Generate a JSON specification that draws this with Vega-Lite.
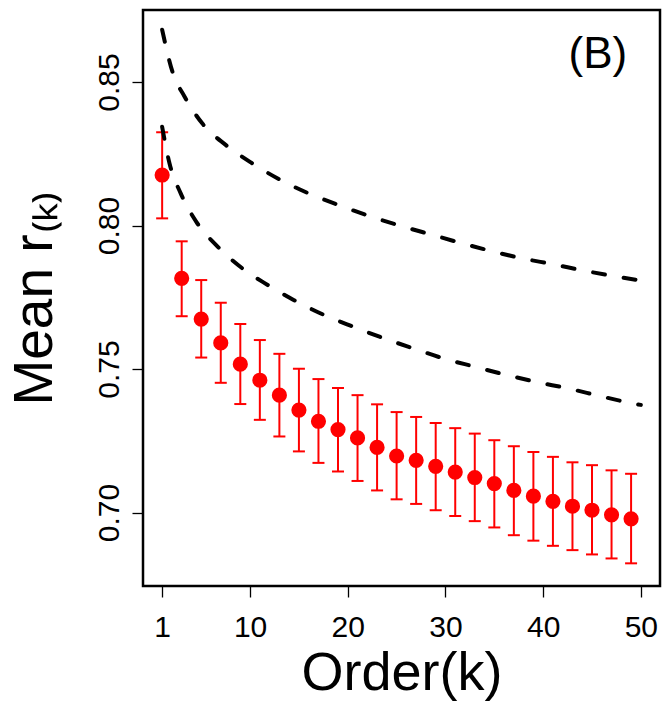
{
  "$schema": "https://vega.github.io/schema/vega-lite/v6.json",
  "width": 517,
  "height": 576,
  "autosize": {"type": "none"},
  "padding": {"left": 143, "top": 10, "right": 3, "bottom": 117},
  "background": "white",
  "config": {
    "font": "Liberation Sans",
    "view": {"stroke": "black", "strokeWidth": 2.5},
    "axis": {"grid": false, "domain": false, "tickColor": "black", "tickWidth": 1.3, "tickSize": 11, "labelColor": "black", "titleColor": "black", "labelFont": "Liberation Sans", "titleFont": "Liberation Sans", "titleFontWeight": "normal"}
  },
  "datasets": {
    "pts": [
      {"k": 1, "m": 0.8176, "lo": 0.8025, "hi": 0.8325},
      {"k": 3, "m": 0.7816, "lo": 0.7684, "hi": 0.7945},
      {"k": 5, "m": 0.7674, "lo": 0.7540, "hi": 0.7810},
      {"k": 7, "m": 0.7591, "lo": 0.7452, "hi": 0.7731},
      {"k": 9, "m": 0.7517, "lo": 0.7378, "hi": 0.7657},
      {"k": 11, "m": 0.7461, "lo": 0.7323, "hi": 0.7601},
      {"k": 13, "m": 0.7409, "lo": 0.7265, "hi": 0.7553},
      {"k": 15, "m": 0.7357, "lo": 0.7213, "hi": 0.7501},
      {"k": 17, "m": 0.7318, "lo": 0.7173, "hi": 0.7465},
      {"k": 19, "m": 0.7289, "lo": 0.7143, "hi": 0.7434},
      {"k": 21, "m": 0.7260, "lo": 0.7110, "hi": 0.7409},
      {"k": 23, "m": 0.7227, "lo": 0.7077, "hi": 0.7377},
      {"k": 25, "m": 0.7197, "lo": 0.7046, "hi": 0.7350},
      {"k": 27, "m": 0.7182, "lo": 0.7030, "hi": 0.7333},
      {"k": 29, "m": 0.7161, "lo": 0.7008, "hi": 0.7312},
      {"k": 31, "m": 0.7141, "lo": 0.6988, "hi": 0.7294},
      {"k": 33, "m": 0.7122, "lo": 0.6970, "hi": 0.7275},
      {"k": 35, "m": 0.7101, "lo": 0.6948, "hi": 0.7252},
      {"k": 37, "m": 0.7077, "lo": 0.6921, "hi": 0.7231},
      {"k": 39, "m": 0.7057, "lo": 0.6902, "hi": 0.7211},
      {"k": 41, "m": 0.7039, "lo": 0.6884, "hi": 0.7194},
      {"k": 43, "m": 0.7022, "lo": 0.6869, "hi": 0.7175},
      {"k": 45, "m": 0.7008, "lo": 0.6854, "hi": 0.7165},
      {"k": 47, "m": 0.6992, "lo": 0.6840, "hi": 0.7147},
      {"k": 49, "m": 0.6978, "lo": 0.6823, "hi": 0.7135}
    ],
    "bounds": [
      {"s": "upper", "k": 1, "v": 0.8682},
      {"s": "upper", "k": 2.1, "v": 0.8531},
      {"s": "upper", "k": 3.3, "v": 0.8449},
      {"s": "upper", "k": 5.1, "v": 0.8356},
      {"s": "upper", "k": 7.5, "v": 0.8281},
      {"s": "upper", "k": 10.2, "v": 0.8217},
      {"s": "upper", "k": 13.1, "v": 0.8159},
      {"s": "upper", "k": 16, "v": 0.8112},
      {"s": "upper", "k": 19.1, "v": 0.8071},
      {"s": "upper", "k": 22.2, "v": 0.8033},
      {"s": "upper", "k": 25.6, "v": 0.7997},
      {"s": "upper", "k": 28.4, "v": 0.7970},
      {"s": "upper", "k": 31.5, "v": 0.7940},
      {"s": "upper", "k": 34.7, "v": 0.7911},
      {"s": "upper", "k": 37.8, "v": 0.7886},
      {"s": "upper", "k": 41, "v": 0.7865},
      {"s": "upper", "k": 44.3, "v": 0.7842},
      {"s": "upper", "k": 47.5, "v": 0.7822},
      {"s": "upper", "k": 50, "v": 0.7808},
      {"s": "lower", "k": 1, "v": 0.8344},
      {"s": "lower", "k": 1.75, "v": 0.8217},
      {"s": "lower", "k": 2.9, "v": 0.8112},
      {"s": "lower", "k": 4.5, "v": 0.8013},
      {"s": "lower", "k": 6.7, "v": 0.7926},
      {"s": "lower", "k": 9.2, "v": 0.7851},
      {"s": "lower", "k": 11.8, "v": 0.7793},
      {"s": "lower", "k": 14.5, "v": 0.7740},
      {"s": "lower", "k": 17.6, "v": 0.7688},
      {"s": "lower", "k": 20.6, "v": 0.7647},
      {"s": "lower", "k": 23.7, "v": 0.7607},
      {"s": "lower", "k": 26.7, "v": 0.7572},
      {"s": "lower", "k": 29.8, "v": 0.7537},
      {"s": "lower", "k": 33, "v": 0.7508},
      {"s": "lower", "k": 36.3, "v": 0.7479},
      {"s": "lower", "k": 39.3, "v": 0.7455},
      {"s": "lower", "k": 42.6, "v": 0.7432},
      {"s": "lower", "k": 45.8, "v": 0.7406},
      {"s": "lower", "k": 48.9, "v": 0.7382},
      {"s": "lower", "k": 50, "v": 0.7375}
    ],
    "panel": [
      {"k": 45.6, "v": 0.8548, "label": "(B)"}
    ]
  },
  "encoding": {
    "x": {"field": "k", "type": "quantitative",
      "scale": {"domain": [-0.96, 51.96], "nice": false, "zero": false},
      "axis": {"values": [1, 10, 20, 30, 40, 50], "title": "Order(k)", "labelFontSize": 30, "labelPadding": 15, "labelBaseline": "top", "titleFontSize": 54, "titleBaseline": "alphabetic", "titlePadding": 47, "labelFlush": false}
    }
  },
  "layer": [
    {
      "data": {"name": "pts"},
      "mark": {"type": "rule", "color": "#ff0000", "strokeWidth": 2},
      "encoding": {
        "y": {"field": "lo", "type": "quantitative",
          "scale": {"domain": [0.6744, 0.8751], "nice": false, "zero": false},
          "axis": {"values": [0.70, 0.75, 0.80, 0.85], "format": ".2f", "title": "Mean r₍ₖ₎", "labelFontSize": 30, "labelAngle": 270, "labelAlign": "center", "labelBaseline": "alphabetic", "labelPadding": 14, "titleFontSize": 55, "titleBaseline": "alphabetic", "titlePadding": 43}
        },
        "y2": {"field": "hi"}
      }
    },
    {
      "data": {"name": "pts"},
      "mark": {"type": "tick", "orient": "horizontal", "color": "#ff0000", "size": 12, "thickness": 2, "opacity": 1},
      "encoding": {"y": {"field": "lo", "type": "quantitative"}}
    },
    {
      "data": {"name": "pts"},
      "mark": {"type": "tick", "orient": "horizontal", "color": "#ff0000", "size": 12, "thickness": 2, "opacity": 1},
      "encoding": {"y": {"field": "hi", "type": "quantitative"}}
    },
    {
      "data": {"name": "pts"},
      "mark": {"type": "point", "filled": true, "color": "#ff0000", "size": 230, "opacity": 1},
      "encoding": {"y": {"field": "m", "type": "quantitative"}}
    },
    {
      "data": {"name": "bounds"},
      "mark": {"type": "line", "color": "black", "strokeWidth": 4, "strokeDash": [12, 19], "strokeCap": "round", "interpolate": "monotone"},
      "encoding": {
        "y": {"field": "v", "type": "quantitative"},
        "detail": {"field": "s", "type": "nominal"}
      }
    },
    {
      "data": {"name": "panel"},
      "mark": {"type": "text", "fontSize": 44, "align": "center", "baseline": "alphabetic", "color": "black", "font": "Liberation Sans"},
      "encoding": {
        "y": {"field": "v", "type": "quantitative"},
        "text": {"field": "label"}
      }
    }
  ]
}
